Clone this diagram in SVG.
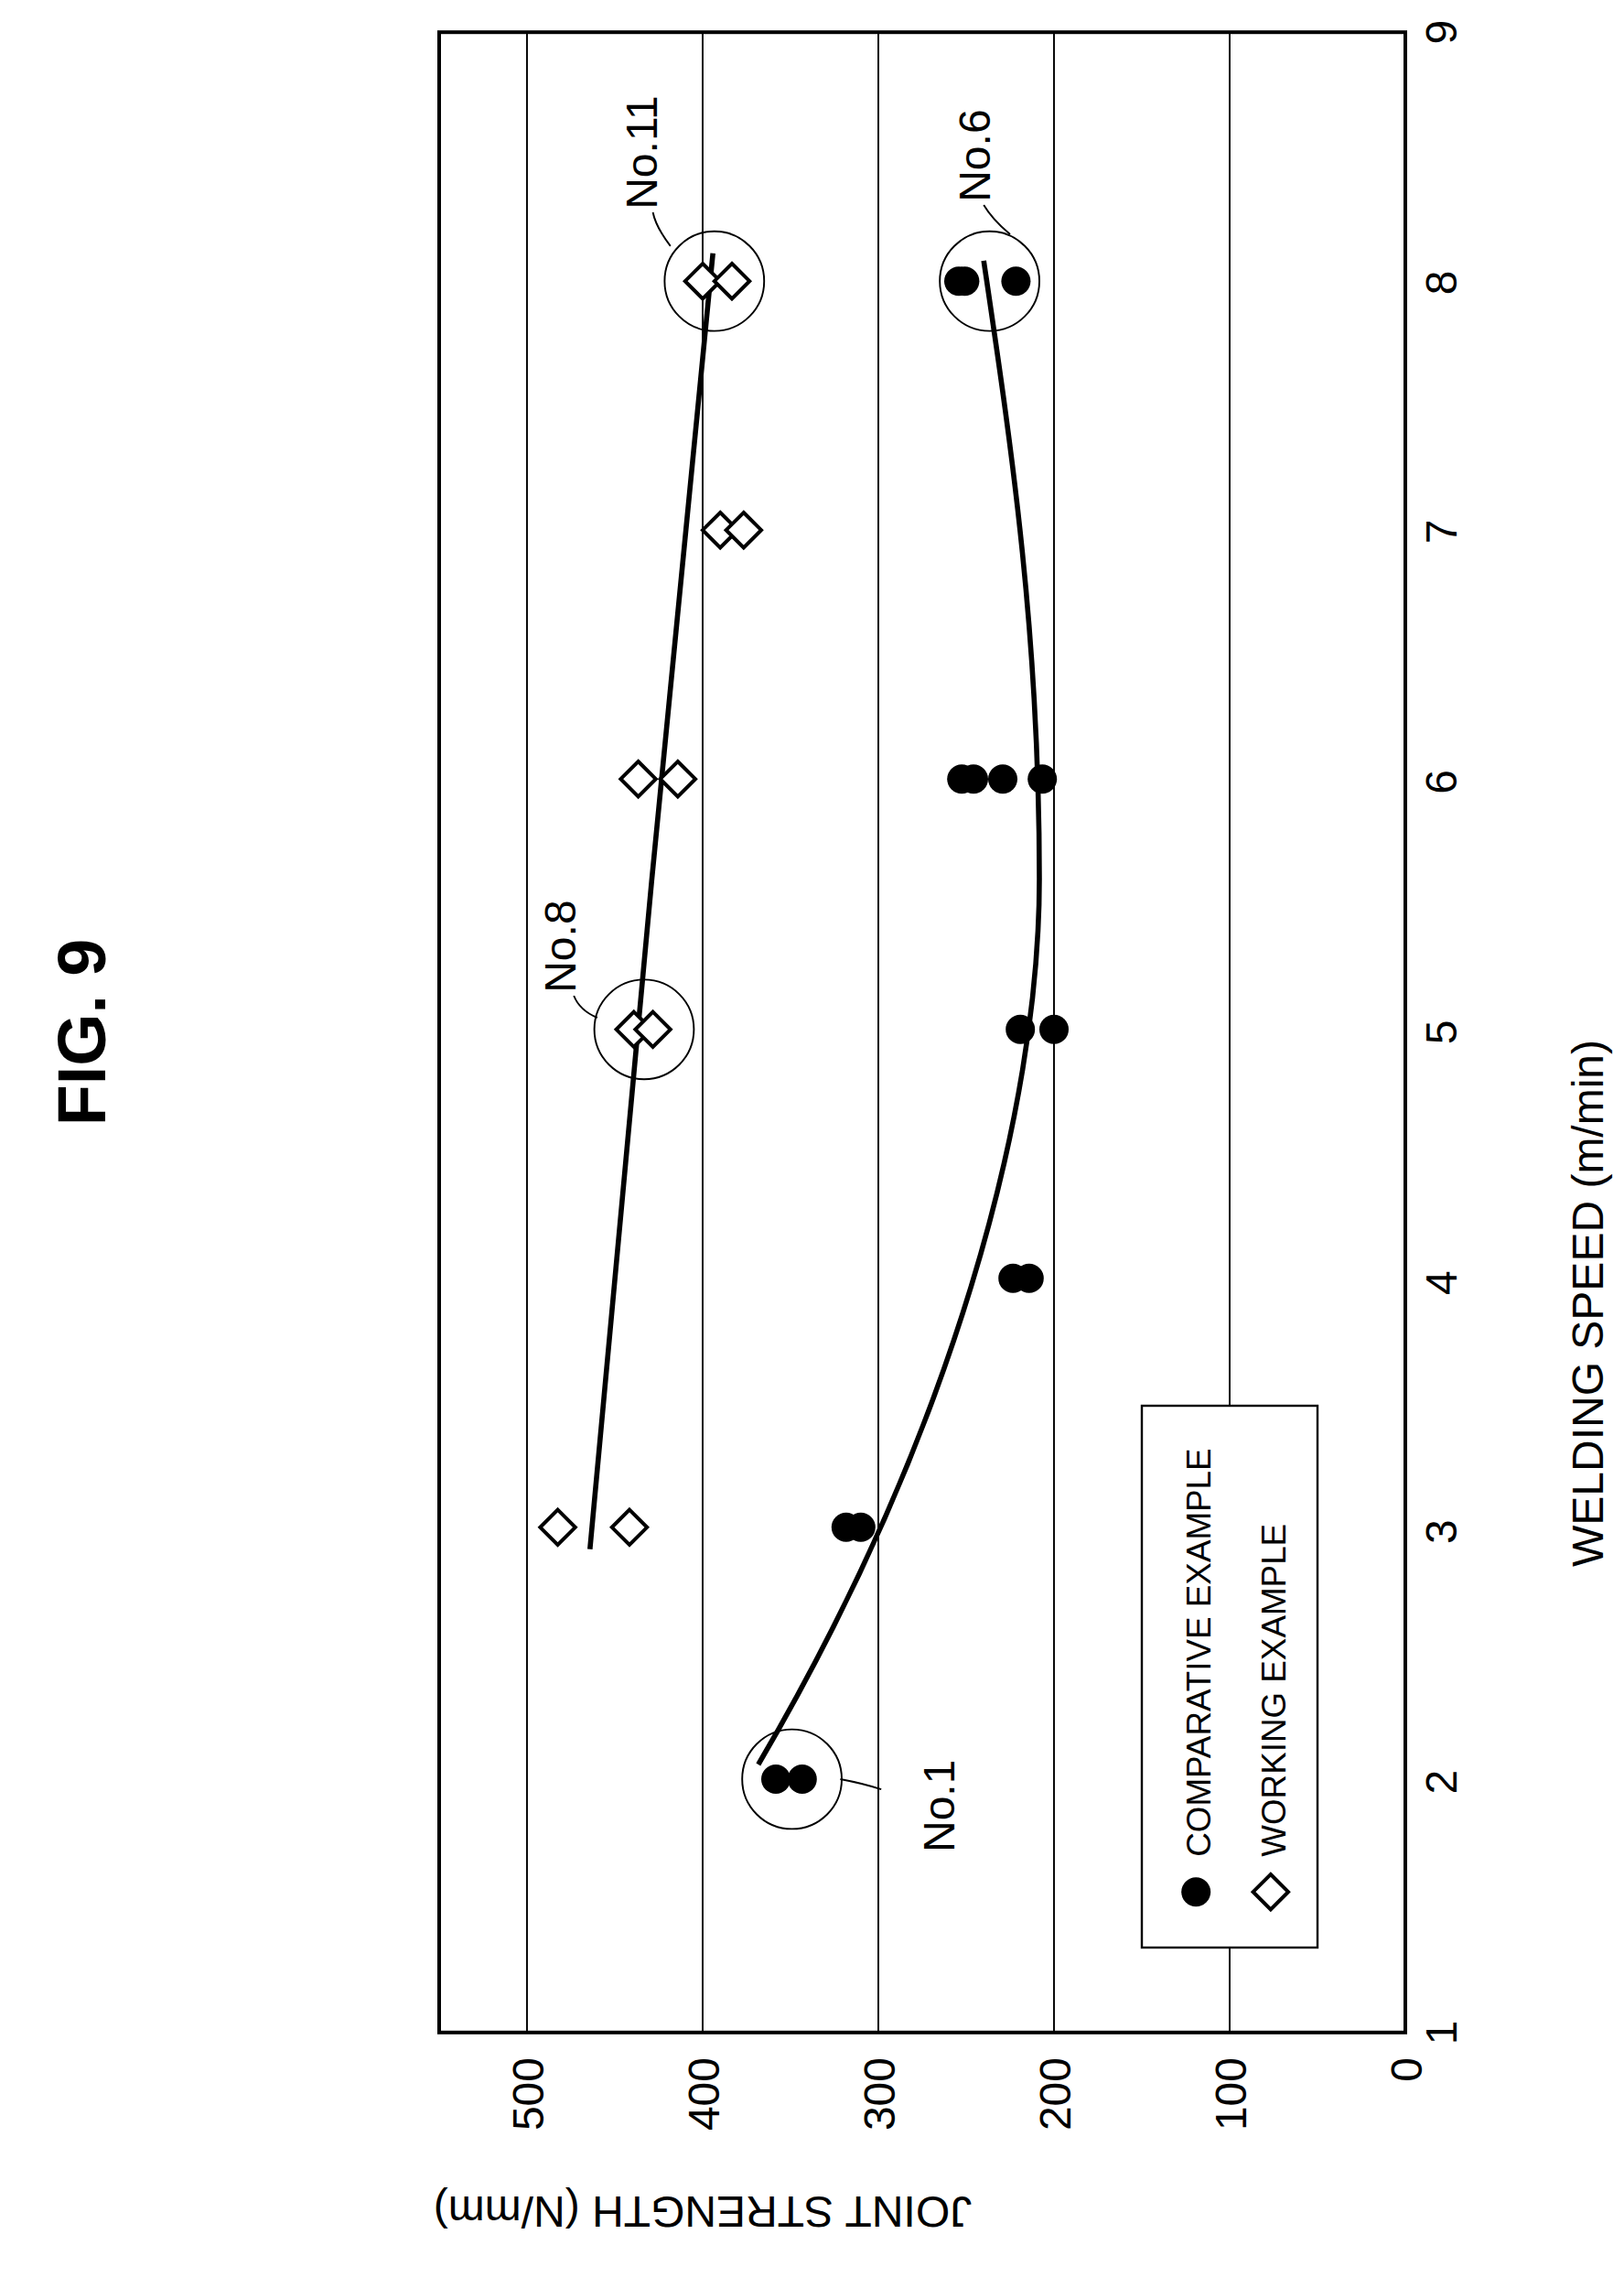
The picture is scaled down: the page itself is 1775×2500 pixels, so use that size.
<svg xmlns="http://www.w3.org/2000/svg" width="1775" height="2500" viewBox="0 0 1775 2500">
<style>
text{font-family:"Liberation Sans",Arial,sans-serif;fill:#000}
.t{font-size:30px}
.l{font-size:23px}
.g{stroke:#000;stroke-width:1.2;fill:none}
.c{fill:#000}
.d{fill:#fff;stroke:#000;stroke-width:2.5}
.h{fill:none;stroke:#000;stroke-width:1.2}
</style>
<defs>
<circle id="pt" r="10" class="c"/>
<path id="dm" d="M0,-12 L12,0 L0,12 L-12,0 Z" class="d"/>
</defs>
<rect width="1775" height="2500" fill="#fff"/>
<g transform="scale(1.6)">
<text transform="translate(72,705) rotate(-90)" font-size="46" font-weight="bold" text-anchor="middle">FIG. 9</text>
<g id="frame">
<rect x="300" y="22" width="660" height="1366" fill="none" stroke="#000" stroke-width="2.5"/>
<line class="g" x1="360" y1="22" x2="360" y2="1388"/>
<line class="g" x1="480" y1="22" x2="480" y2="1388"/>
<line class="g" x1="600" y1="22" x2="600" y2="1388"/>
<line class="g" x1="720" y1="22" x2="720" y2="1388"/>
<line class="g" x1="840" y1="22" x2="840" y2="1388"/>
</g>
<g id="xticks" class="t">
<text transform="translate(995,1388) rotate(-90)" text-anchor="middle">1</text>
<text transform="translate(995,1217) rotate(-90)" text-anchor="middle">2</text>
<text transform="translate(995,1046) rotate(-90)" text-anchor="middle">3</text>
<text transform="translate(995,876) rotate(-90)" text-anchor="middle">4</text>
<text transform="translate(995,705) rotate(-90)" text-anchor="middle">5</text>
<text transform="translate(995,534) rotate(-90)" text-anchor="middle">6</text>
<text transform="translate(995,363) rotate(-90)" text-anchor="middle">7</text>
<text transform="translate(995,193) rotate(-90)" text-anchor="middle">8</text>
<text transform="translate(995,22) rotate(-90)" text-anchor="middle">9</text>
</g>
<g id="yticks" class="t">
<text transform="translate(371,1405) rotate(-90)" text-anchor="end">500</text>
<text transform="translate(491,1405) rotate(-90)" text-anchor="end">400</text>
<text transform="translate(611,1405) rotate(-90)" text-anchor="end">300</text>
<text transform="translate(731,1405) rotate(-90)" text-anchor="end">200</text>
<text transform="translate(851,1405) rotate(-90)" text-anchor="end">100</text>
<text transform="translate(971,1405) rotate(-90)" text-anchor="end">0</text>
</g>
<text transform="translate(1095,890) rotate(-90)" class="t" font-size="28" text-anchor="middle">WELDING SPEED (m/min)</text>
<text transform="translate(480,1500) rotate(180)" class="t" font-size="28" text-anchor="middle">JOINT STRENGTH (N/mm)</text>
<g id="curves" fill="none" stroke="#000" stroke-width="3.5">
<path d="M403,1058 C420,850 465,400 487,173"/>
<path d="M518,1205 C650,980 710,760 710,600 C710,430 690,300 672,178"/>
</g>
<g id="comparative">
<use href="#pt" x="530" y="1215"/><use href="#pt" x="548" y="1215"/>
<use href="#pt" x="578" y="1043"/><use href="#pt" x="588" y="1043"/>
<use href="#pt" x="692" y="873"/><use href="#pt" x="703" y="873"/>
<use href="#pt" x="697" y="703"/><use href="#pt" x="720" y="703"/>
<use href="#pt" x="657" y="532"/><use href="#pt" x="665" y="532"/><use href="#pt" x="685" y="532"/><use href="#pt" x="712" y="532"/>
<use href="#pt" x="655" y="192"/><use href="#pt" x="659" y="192"/><use href="#pt" x="694" y="192"/>
</g>
<g id="working">
<use href="#dm" x="381" y="1043"/><use href="#dm" x="430" y="1043"/>
<use href="#dm" x="433" y="703"/><use href="#dm" x="446" y="703"/>
<use href="#dm" x="436" y="532"/><use href="#dm" x="463" y="532"/>
<use href="#dm" x="492" y="362"/><use href="#dm" x="508" y="362"/>
<use href="#dm" x="480" y="192"/><use href="#dm" x="500" y="192"/>
</g>
<g id="highlights">
<circle class="h" cx="541" cy="1215" r="34"/>
<circle class="h" cx="440" cy="703" r="34"/>
<circle class="h" cx="488" cy="192" r="34"/>
<circle class="h" cx="676" cy="192" r="34"/>
<path class="h" d="M574,1215 Q590,1218 602,1222"/>
<path class="h" d="M408,695 Q396,690 392,680"/>
<path class="h" d="M458,168 Q448,155 446,145"/>
<path class="h" d="M690,160 Q678,150 672,140"/>
<text transform="translate(652,1265) rotate(-90)" class="t" font-size="28">No.1</text>
<text transform="translate(393,678) rotate(-90)" class="t" font-size="28">No.8</text>
<text transform="translate(449,143) rotate(-90)" class="t" font-size="28">No.11</text>
<text transform="translate(676,138) rotate(-90)" class="t" font-size="28">No.6</text>
</g>
<g id="legend">
<rect x="780" y="960" width="120" height="370" fill="#fff" stroke="#000" stroke-width="1.5"/>
<use href="#pt" x="817" y="1292"/>
<use href="#dm" x="868" y="1292"/>
<text transform="translate(827,1268) rotate(-90)" class="l">COMPARATIVE EXAMPLE</text>
<text transform="translate(878,1268) rotate(-90)" class="l">WORKING EXAMPLE</text>
</g>
</g>
</svg>
